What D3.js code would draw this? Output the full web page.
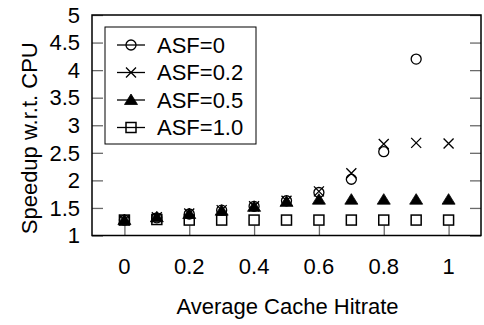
<!DOCTYPE html>
<html>
<head>
<meta charset="utf-8">
<script src="https://cdn.jsdelivr.net/npm/d3@7"></script>
<style>
  html, body { margin: 0; padding: 0; background: #fff; }
  svg { display: block; font-family: "Liberation Sans", Arial, Helvetica, sans-serif; }
</style>
</head>
<body>
<svg id="chart" width="484" height="325"></svg>
<script>
// Cache hit rate on the x axis
const hitrates = [0, 0.1, 0.2, 0.3, 0.4, 0.5, 0.6, 0.7, 0.8, 0.9, 1.0];

// Speedup over CPU for each ASF setting (null = not plotted)
const asf0   = [1.28, 1.32, 1.39, 1.46, 1.53, 1.63, 1.78, 2.02, 2.52, 4.20, null];
const asf02  = [1.28, 1.33, 1.40, 1.46, 1.53, 1.63, 1.80, 2.13, 2.66, 2.68, 2.67];
const asf05  = [1.28, 1.33, 1.39, 1.45, 1.52, 1.61, 1.65, 1.65, 1.65, 1.65, 1.65];
const asf10  = [1.28, 1.29, 1.28, 1.28, 1.28, 1.28, 1.28, 1.28, 1.28, 1.28, 1.28];

const seriesNames = ["ASF=0", "ASF=0.2", "ASF=0.5", "ASF=1.0"];
const seriesShapes = ["circle", "cross", "triangle", "square"];
const seriesValues = [asf0, asf02, asf05, asf10];

const xTicks = [0, 0.2, 0.4, 0.6, 0.8, 1];
const yTicks = [1, 1.5, 2, 2.5, 3, 3.5, 4, 4.5, 5];

const svg = d3.select("#chart");
const plotLeft = 92, plotRight = 481, plotTop = 15, plotBottom = 235.5;

const x = d3.scaleLinear().domain([-0.1, 1.1]).range([plotLeft, plotRight]);
const y = d3.scaleLinear().domain([1, 5]).range([plotBottom, plotTop]);

const tickColor = "#6a6a6a";
const fontSize = 22;

// Inward tick marks on left, right and bottom edges
svg.append("g").attr("transform", `translate(${plotLeft},0)`)
  .call(d3.axisRight(y).tickValues(yTicks).tickSize(11).tickFormat(""))
  .call(g => g.select(".domain").remove())
  .call(g => g.selectAll("line").attr("stroke", tickColor).attr("stroke-width", 1.3));

svg.append("g").attr("transform", `translate(${plotRight},0)`)
  .call(d3.axisLeft(y).tickValues(yTicks).tickSize(11).tickFormat(""))
  .call(g => g.select(".domain").remove())
  .call(g => g.selectAll("line").attr("stroke", tickColor).attr("stroke-width", 1.3));

svg.append("g").attr("transform", `translate(0,${plotBottom})`)
  .call(d3.axisTop(x).tickValues(xTicks).tickSize(10).tickFormat(""))
  .call(g => g.select(".domain").remove())
  .call(g => g.selectAll("line").attr("stroke", tickColor).attr("stroke-width", 1.3));

// Tick labels
svg.append("g").selectAll("text").data(yTicks).join("text")
  .attr("x", 80).attr("y", d => y(d)).attr("dy", "0.35em")
  .attr("text-anchor", "end").attr("font-size", fontSize).attr("fill", "#000")
  .text(d => d3.format("~g")(d));

svg.append("g").selectAll("text").data(xTicks).join("text")
  .attr("x", d => x(d)).attr("y", 266).attr("dy", "0.35em")
  .attr("text-anchor", "middle").attr("font-size", fontSize).attr("fill", "#000")
  .text(d => d3.format("~g")(d));

// Axis titles
svg.append("text")
  .attr("transform", `translate(29,${(plotTop + plotBottom) / 2 + 13}) rotate(-90)`)
  .attr("text-anchor", "middle").attr("dy", "0.35em")
  .attr("font-size", fontSize).text("Speedup w.r.t. CPU");

svg.append("text")
  .attr("x", (plotLeft + plotRight) / 2 + 1).attr("y", 306).attr("dy", "0.35em")
  .attr("text-anchor", "middle").attr("font-size", fontSize)
  .text("Average Cache Hitrate");

// Marker drawing
function drawMarker(g, shape, cx, cy) {
  const s = 5;
  if (shape === "circle") {
    g.append("circle").attr("cx", cx).attr("cy", cy).attr("r", s)
      .attr("fill", "none").attr("stroke", "#000").attr("stroke-width", 1.3);
  } else if (shape === "cross") {
    g.append("path")
      .attr("d", `M${cx - s},${cy - s}L${cx + s},${cy + s}M${cx - s},${cy + s}L${cx + s},${cy - s}`)
      .attr("stroke", "#000").attr("stroke-width", 1.3).attr("fill", "none");
  } else if (shape === "triangle") {
    g.append("path")
      .attr("d", `M${cx},${cy - 6}L${cx + 6.5},${cy + 4.5}L${cx - 6.5},${cy + 4.5}Z`)
      .attr("fill", "#000").attr("stroke", "#000").attr("stroke-width", 0.8);
  } else {
    g.append("rect").attr("x", cx - 5).attr("y", cy - 5).attr("width", 10).attr("height", 10)
      .attr("fill", "none").attr("stroke", "#000").attr("stroke-width", 1.5);
  }
}

const plot = svg.append("g");
seriesValues.forEach((vals, i) => {
  const g = plot.append("g");
  hitrates.forEach((h, j) => {
    if (vals[j] == null) return;
    drawMarker(g, seriesShapes[i], x(h), y(vals[j]));
  });
});

// Frame
svg.append("rect").attr("x", plotLeft).attr("y", plotTop)
  .attr("width", plotRight - plotLeft).attr("height", plotBottom - plotTop)
  .attr("fill", "none").attr("stroke", "#000").attr("stroke-width", 1.5);

// Legend
const lg = svg.append("g");
lg.append("rect").attr("x", 105).attr("y", 27).attr("width", 151).attr("height", 117)
  .attr("fill", "#fff").attr("stroke", "#000").attr("stroke-width", 1);
seriesNames.forEach((name, i) => {
  const cy = 45 + i * 27.5;
  lg.append("line").attr("x1", 117).attr("x2", 145).attr("y1", cy).attr("y2", cy)
    .attr("stroke", "#000").attr("stroke-width", 1.3);
  drawMarker(lg, seriesShapes[i], 131, cy);
  lg.append("text").attr("x", 157).attr("y", cy).attr("dy", "0.36em")
    .attr("font-size", fontSize).text(name);
});
</script>
</body>
</html>
